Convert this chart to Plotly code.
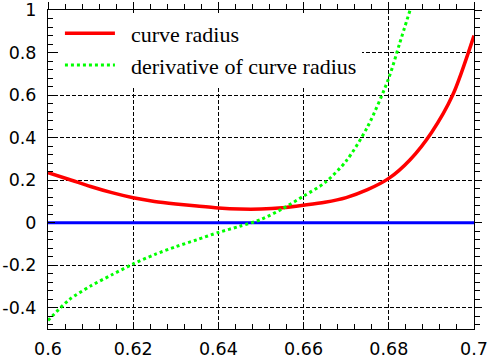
import plotly.graph_objects as go

# ---- data ----
radius_x = [0.600, 0.605, 0.610, 0.615, 0.620, 0.625, 0.630, 0.635, 0.640, 0.645, 0.650,
            0.655, 0.660, 0.665, 0.670, 0.675, 0.680, 0.685, 0.690, 0.695, 0.700]
radius_y = [0.235, 0.203, 0.170, 0.141, 0.117, 0.100, 0.088, 0.078, 0.069, 0.064, 0.064,
            0.070, 0.082, 0.096, 0.118, 0.155, 0.208, 0.296, 0.423, 0.600, 0.880]

deriv_x = [0.600, 0.605, 0.610, 0.615, 0.620, 0.625, 0.630, 0.635, 0.640, 0.645, 0.650,
           0.655, 0.660, 0.665, 0.670, 0.675, 0.680, 0.6825, 0.685]
deriv_y = [-0.460, -0.362, -0.298, -0.245, -0.194, -0.150, -0.113, -0.080, -0.046, -0.017, 0.015,
           0.065, 0.125, 0.188, 0.290, 0.450, 0.680, 0.840, 1.000]

zero_x = [0.6, 0.7]
zero_y = [0.0, 0.0]

x_ticks = [0.6, 0.62, 0.64, 0.66, 0.68, 0.7]
x_labels = ["0.6", "0.62", "0.64", "0.66", "0.68", "0.7"]
y_ticks = [-0.4, -0.2, 0, 0.2, 0.4, 0.6, 0.8, 1.0]
y_labels = ["-0.4", "-0.2", "0", "0.2", "0.4", "0.6", "0.8", "1"]

NB = "\u00a0\u00a0"  # small gap between legend sample and label

fig = go.Figure()
fig.add_trace(go.Scatter(x=zero_x, y=zero_y, mode="lines",
                         line=dict(color="#0000ff", width=3), showlegend=False))
fig.add_trace(go.Scatter(x=radius_x, y=radius_y, mode="lines", name=NB + "curve radius",
                         line=dict(color="#ff0000", width=3.5, shape="spline", smoothing=0.8)))
fig.add_trace(go.Scatter(x=deriv_x, y=deriv_y, mode="lines",
                         name=NB + "derivative of curve radius",
                         line=dict(color="#00ff00", width=3, dash="dot", shape="spline", smoothing=0.8)))
# invisible trace to anchor mirrored axes
fig.add_trace(go.Scatter(x=zero_x, y=zero_y, xaxis="x2", yaxis="y2", mode="lines",
                         line=dict(width=0), opacity=0, showlegend=False, hoverinfo="skip"))

tickfont = dict(family="DejaVu Sans", size=17.5, color="black")
common = dict(showline=True, linecolor="black", linewidth=1, zeroline=False,
              color="black", automargin=False)

fig.update_layout(
    width=489, height=358,
    margin=dict(l=48, r=15, t=10, b=29, pad=0),
    paper_bgcolor="white", plot_bgcolor="white",
    xaxis=dict(range=[0.6, 0.7], tickmode="array", tickvals=x_ticks, ticktext=x_labels,
               ticks="inside", ticklen=7, tickcolor="black", tickfont=tickfont,
               showgrid=True, gridcolor="black", gridwidth=1, griddash="4px,2px",
               minor=dict(ticks="inside", ticklen=5, dtick=0.004, tick0=0.6,
                          tickcolor="black", showgrid=False),
               ticklabelstandoff=4, **common),
    yaxis=dict(range=[-0.5, 1.0], tickmode="array", tickvals=y_ticks, ticktext=y_labels,
               ticks="inside", ticklen=7, tickcolor="black", tickfont=tickfont,
               showgrid=True, gridcolor="black", gridwidth=1, griddash="4px,2px",
               minor=dict(ticks="inside", ticklen=5, dtick=0.04, tick0=0,
                          tickcolor="black", showgrid=False),
               ticklabelstandoff=7, **common),
    xaxis2=dict(range=[0.6, 0.7], overlaying="x", side="top", anchor="y",
                tickmode="array", tickvals=x_ticks, showticklabels=False,
                ticks="outside", ticklen=7, tickcolor="black", showgrid=False,
                minor=dict(ticks="outside", ticklen=5, dtick=0.004, tick0=0.6,
                           tickcolor="black", showgrid=False), **common),
    yaxis2=dict(range=[-0.5, 1.0], overlaying="y", side="right", anchor="x",
                tickmode="array", tickvals=y_ticks, showticklabels=False,
                ticks="outside", ticklen=7, tickcolor="black", showgrid=False,
                minor=dict(ticks="outside", ticklen=5, dtick=0.04, tick0=0,
                           tickcolor="black", showgrid=False), **common),
    legend=dict(x=0.028, y=0.992, xanchor="left", yanchor="top",
                bgcolor="white", borderwidth=0,
                font=dict(family="Liberation Serif", size=22, color="black"),
                tracegroupgap=0, itemwidth=50),
    showlegend=True,
)

fig.write_html("out.html", config={"displayModeBar": False},
               post_script="document.body.style.margin='0';")
